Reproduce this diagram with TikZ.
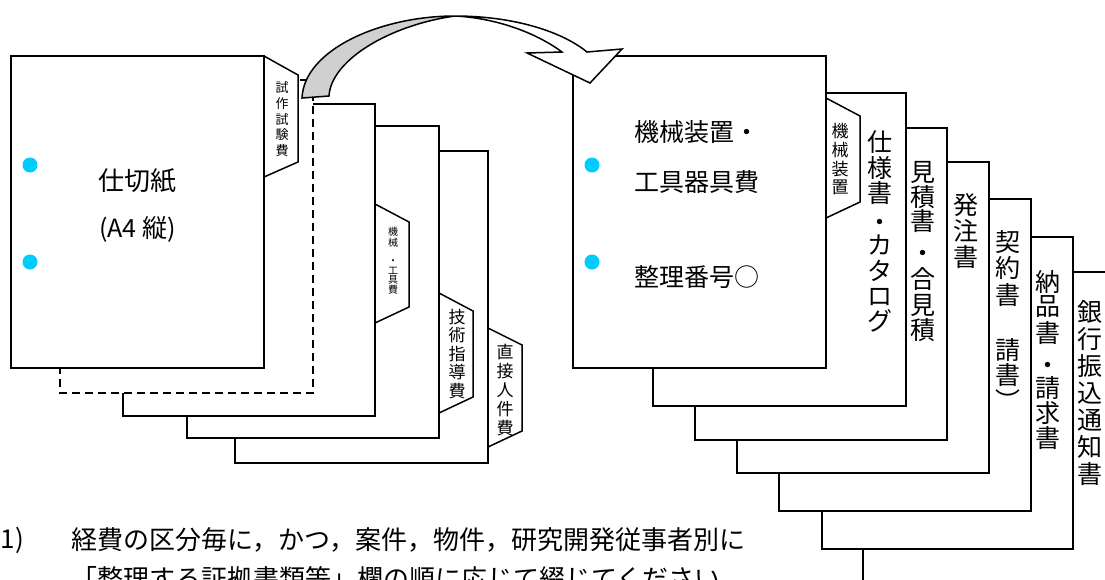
\documentclass[tikz,border=0pt]{standalone}
\usepackage{fontspec}
\setmainfont{Noto Sans CJK JP}
\definecolor{dotblue}{RGB}{0,204,255}
\definecolor{arrowgray}{RGB}{208,208,208}
\newcommand\vcol[4]{\foreach \ch/\yy [count=\k] in {#4} {\node[#2] (#1-\k) at (#3,\yy) {\ch};}}
\begin{document}
\begin{tikzpicture}[x=1pt,y=-1pt,line width=1.5pt,line join=miter,
  sheet/.style={draw=black,fill=white},
  dsheet/.style={draw=black,fill=white,dash pattern=on 8pt off 5pt},
  holedot/.style={fill=dotblue},
  arrowpart/.style={draw=black,line width=1.5pt},
  vbig/.style={inner sep=0pt,font=\fontsize{25}{30}\selectfont},
  vmid/.style={inner sep=0pt,font=\fontsize{17}{20}\selectfont},
  vsml/.style={inner sep=0pt,font=\fontsize{13}{15}\selectfont},
  vtiny/.style={inner sep=0pt,font=\fontsize{10}{12}\selectfont},
  bigtxt/.style={inner sep=0pt,font=\fontsize{25}{30}\selectfont},
  bodytxt/.style={inner sep=0pt,font=\fontsize{26}{32}\selectfont}]
\useasboundingbox (0,0) rectangle (1105,579);
\fill[white] (0,0) rectangle (1105,579);

% ---------- left stack ----------
\draw[sheet] (235,151) rectangle (488,463);
\draw[sheet] (488,328) -- (522,345) -- (522,431) -- (488,447) -- cycle;
\draw[sheet] (187,126) rectangle (439,438);
\draw[sheet] (439,293) -- (473,311) -- (473,397) -- (439,413) -- cycle;
\draw[sheet] (123,104) rectangle (375,416);
\draw[sheet] (375,204) -- (409,222) -- (409,307) -- (375,323) -- cycle;
\draw[dsheet] (60,80) rectangle (313,393);
\draw[sheet] (11,56) rectangle (264,368);
\draw[sheet] (264,56) -- (298,75) -- (298,162) -- (264,177) -- cycle;

\fill[holedot] (30,165) circle (7.5);
\fill[holedot] (30,262) circle (7.5);
\node[bigtxt,font=\fontsize{26}{30}\selectfont] (shikiri) at (137.5,181) {仕切紙};
\node[bigtxt,font=\fontsize{25}{30}\selectfont] (a4) at (137.5,229) {(A4 縦)};

\vcol{t0}{vsml}{282}{試/88,作/103.7,試/119.4,験/135,費/150.8}
\vcol{t2}{vtiny}{393}{機/232,械/243,・/262,工/271,具/280,費/290}
\vcol{t3}{vmid}{457}{技/317,術/335.5,指/354,導/372.5,費/391}
\vcol{t4}{vmid}{505}{直/352,接/371,人/390,件/409,費/428}

% ---------- right stack ----------
\draw[sheet] (863,272) rectangle (1115,584);
\draw[sheet] (822,237) rectangle (1073,549);
\draw[sheet] (779,199) rectangle (1031,511);
\draw[sheet] (737,162) rectangle (989,473);
\draw[sheet] (695,128) rectangle (947,440);
\draw[sheet] (653,93) rectangle (906,406);
\draw[sheet] (573,56) rectangle (826,368);
\draw[sheet] (826,98) -- (860,116) -- (860,202) -- (826,218) -- cycle;

\fill[holedot] (592,165) circle (7.5);
\fill[holedot] (592,262) circle (7.5);
\node[bigtxt,anchor=west] (kikai) at (634,132) {機械装置・};
\node[bigtxt,anchor=west] (kougu) at (634,182) {工具器具費};
\node[bigtxt,anchor=west] (seiri) at (634,277) {整理番号○};

\vcol{tf}{vmid}{840}{機/131,械/150,装/169,置/187.5}
\vcol{r1}{vbig}{880}{仕/142,様/167.6,書/193,・/225,カ/245,タ/271,ロ/297,グ/321}
\vcol{r2}{vbig}{923}{見/172,積/197,書/221,・/256,合/279,見/305,積/330}
\vcol{r3}{vbig}{966}{発/205,注/231,書/257}
\vcol{r4}{vbig}{1008}{契/242,約/268,書/295,請/350,書/375,︶/400}
\vcol{r5}{vbig}{1048}{納/282,品/307,書/333,・/368,請/388,求/413,書/438}
\vcol{r6}{vbig}{1090}{銀/312,行/339,振/366,込/393,通/420,知/447,書/474}

% ---------- curved arrow ----------
\filldraw[arrowpart,fill=arrowgray] (302,98) .. controls (304,50) and (380,16) .. (455,16)
  .. controls (390,25) and (331,60) .. (329,96) -- cycle;
\filldraw[arrowpart,fill=white] (455,16) .. controls (510,16) and (560,30) .. (587,52)
  -- (622,49) -- (590,83) -- (527,53) -- (562,52)
  .. controls (535,32) and (495,18) .. (455,16) -- cycle;

% ---------- note text ----------
\node[bodytxt,anchor=west] (num) at (0,540) {1)};
\node[bodytxt,anchor=west] (line1) at (71,540) {経費の区分毎に，かつ，案件，物件，研究開発従事者別に};
\node[bodytxt,anchor=west] (line2) at (71,579) {「整理する証拠書類等」欄の順に応じて綴じてください。};
\end{tikzpicture}
\end{document}
